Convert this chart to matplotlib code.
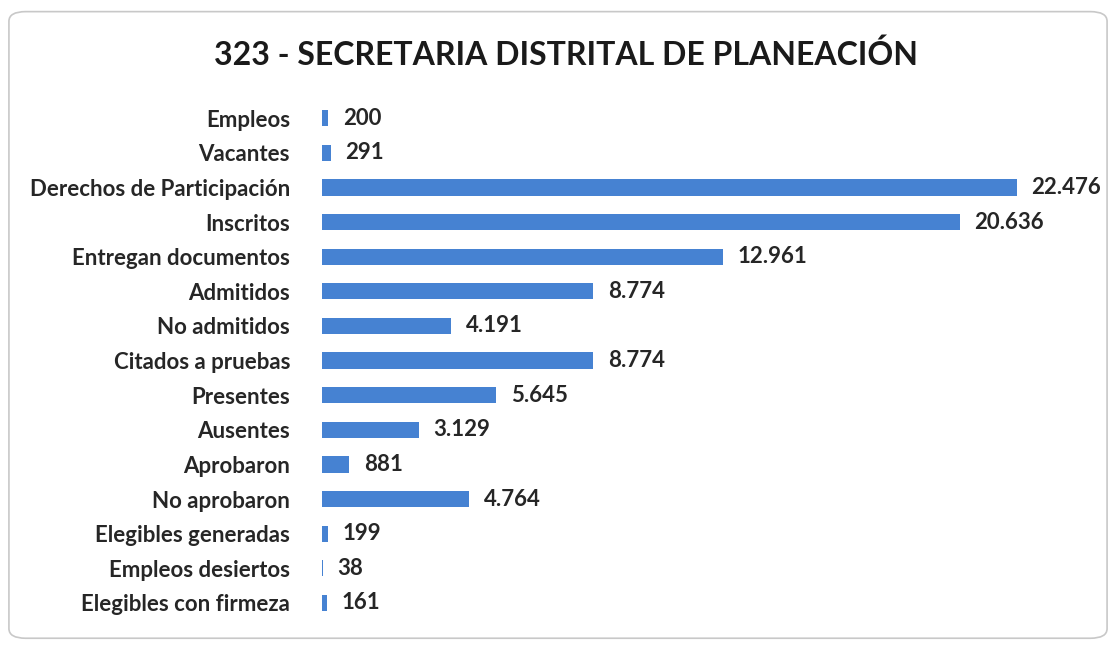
import matplotlib.pyplot as plt
from matplotlib.patches import FancyBboxPatch

categories = ['Empleos', 'Vacantes', 'Derechos de Participación', 'Inscritos',
              'Entregan documentos', 'Admitidos', 'No admitidos', 'Citados a pruebas',
              'Presentes', 'Ausentes', 'Aprobaron', 'No aprobaron',
              'Elegibles generadas', 'Empleos desiertos', 'Elegibles con firmeza']
values = [200, 291, 22476, 20636, 12961, 8774, 4191, 8774,
          5645, 3129, 881, 4764, 199, 38, 161]
title = '323 - SECRETARIA DISTRITAL DE PLANEACIÓN'

plt.rcParams['font.family'] = ['Lato', 'DejaVu Sans']

fig = plt.figure(figsize=(11.16, 6.46), dpi=100)
fig.patch.set_facecolor('white')

# rounded frame around the chart (no fill so it stays behind the bars)
frame = FancyBboxPatch((0.008, 0.012), 0.984, 0.97, transform=fig.transFigure,
                       boxstyle='round,pad=0,rounding_size=0.015',
                       facecolor='none', edgecolor='#c8c8c8', linewidth=1.2)
fig.patches.append(frame)

ax = fig.add_axes([0.2885, 0.0398, 0.661, 0.804])
ax.set_facecolor('none')
y = range(len(categories))
ax.barh(y, values, height=0.47, color='#4682d2')
ax.set_xlim(0, 23870)
ax.set_ylim(len(categories) - 0.5, -0.5)

for i, v in enumerate(values):
    label = f'{v:,}'.replace(',', '.')
    ax.annotate(label, (v, i), xytext=(10.5, 0), textcoords='offset points',
                va='center', ha='left', fontsize=16, fontweight='bold', color='#262626')

ax.set_yticks(list(y))
ax.set_yticklabels(categories, fontsize=16, fontweight='bold', color='#262626')
ax.tick_params(axis='y', length=0, pad=23)
ax.set_xticks([])
for s in ax.spines.values():
    s.set_visible(False)

fig.text(0.507, 0.915, title, ha='center', va='center', fontsize=23,
         fontweight='bold', color='#1a1a1a')

fig.savefig('out.png', dpi=100)
